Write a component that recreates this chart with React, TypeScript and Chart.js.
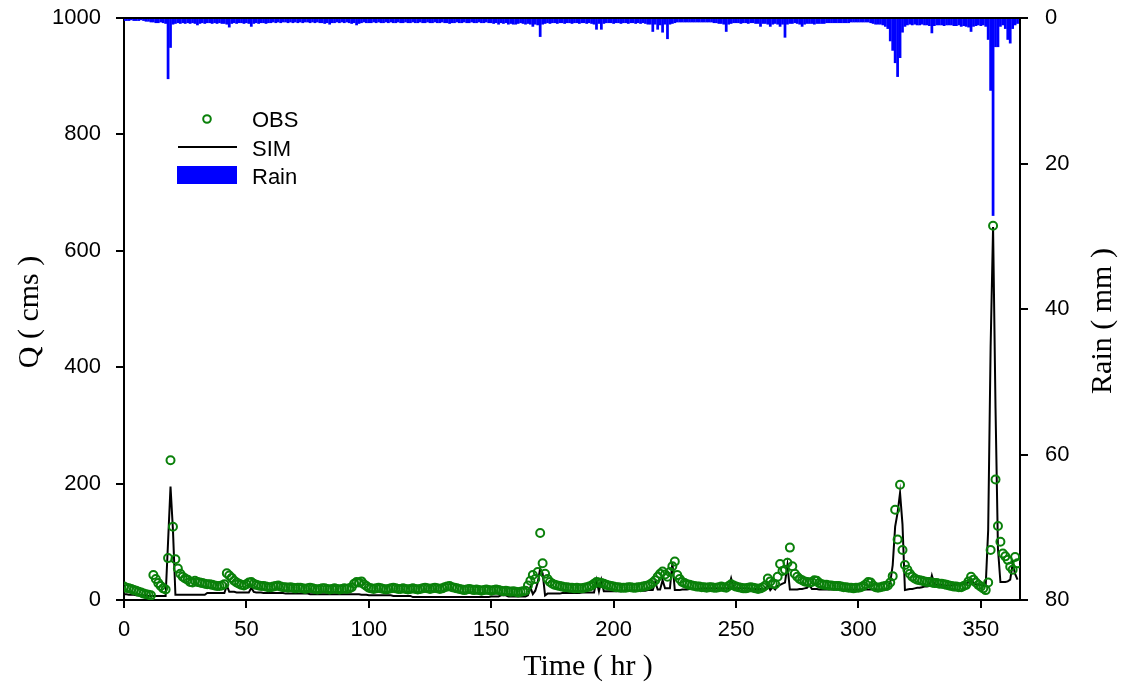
import React, { useEffect, useRef } from "react";
import { Chart, registerables } from "chart.js";

Chart.register(...registerables);

// Observed discharge (cms), hourly from hour 0
const OBS: number[] = [
  23, 21, 20, 19, 17, 16, 14, 13, 11, 10,
  9, 8, 43, 36, 29, 24, 20, 18, 72, 240,
  126, 70, 54, 45, 40, 37, 35, 31, 30, 33,
  31, 30, 29, 28, 27, 27, 26, 25, 24, 24,
  25, 27, 46, 42, 38, 33, 30, 28, 26, 25,
  27, 30, 31, 28, 26, 25, 24, 24, 23, 22,
  22, 23, 24, 25, 23, 22, 22, 21, 22, 21,
  20, 21, 21, 20, 19, 20, 21, 20, 19, 18,
  19, 20, 20, 19, 18, 19, 20, 19, 18, 19,
  20, 19, 20, 22, 28, 31, 30, 32, 27, 24,
  21, 20, 19, 20, 21, 20, 19, 18, 19, 20,
  21, 20, 19, 19, 20, 19, 18, 19, 20, 19,
  18, 19, 20, 21, 20, 19, 20, 21, 20, 19,
  20, 22, 23, 24, 22, 21, 20, 19, 18, 17,
  18, 19, 18, 17, 18, 17, 16, 17, 18, 17,
  16, 17, 18, 17, 16, 15, 16, 15, 14, 15,
  14, 13, 14, 15, 16, 25, 33, 43, 36, 48,
  115, 63, 45, 36, 31, 28, 26, 25, 24, 23,
  22, 22, 21, 21, 20, 21, 20, 20, 21, 22,
  23, 25, 28, 31, 30, 29, 28, 26, 25, 24,
  23, 22, 22, 21, 21, 21, 22, 22, 21, 21,
  22, 22, 23, 24, 25, 27, 30, 34, 40, 45,
  49, 44, 40, 48, 58, 66, 43, 36, 31, 29,
  27, 26, 25, 24, 23, 23, 22, 22, 21, 22,
  22, 21, 21, 22, 23, 22, 21, 24, 27, 25,
  23, 22, 21, 20, 20, 21, 22, 21, 20, 19,
  20, 22, 25, 37, 32, 28, 27, 40, 62, 50,
  52, 64, 90, 58, 45, 40, 36, 34, 32, 31,
  30, 31, 34, 33, 29, 27, 26, 26, 25, 25,
  24, 24, 24, 23, 22, 22, 21, 21, 20, 21,
  21, 22, 24, 27, 31, 30, 25, 22, 21, 22,
  23, 24, 25, 30, 41, 155, 104, 198, 86, 60,
  52, 45, 40, 37, 35, 34, 33, 32, 31, 31,
  30, 29, 29, 28, 28, 27, 26, 25, 24, 23,
  23, 22, 22, 24, 26, 32, 40, 35, 30, 26,
  23, 20, 17, 30, 86, 643, 207, 127, 100, 80,
  75, 69, 57, 52, 74, 63,
];

// Simulated discharge (cms)
const SIM: number[] = [
  10, 10, 9, 9, 9, 8, 8, 8, 8, 8,
  7, 7, 7, 7, 7, 7, 7, 7, 100, 195,
  120, 9, 9, 9, 9, 9, 9, 9, 9, 9,
  9, 9, 9, 9, 12, 12, 12, 12, 12, 12,
  12, 12, 25, 14, 14, 14, 13, 13, 13, 13,
  13, 13, 21, 14, 13, 13, 13, 12, 12, 12,
  12, 12, 12, 12, 12, 12, 11, 11, 11, 11,
  11, 11, 11, 11, 11, 11, 10, 10, 10, 10,
  10, 10, 10, 10, 10, 10, 10, 10, 10, 10,
  10, 10, 10, 10, 10, 10, 10, 9, 9, 9,
  8, 8, 8, 8, 8, 8, 8, 8, 8, 8,
  7, 7, 7, 7, 7, 7, 7, 7, 5, 5,
  5, 5, 5, 5, 5, 5, 5, 5, 5, 5,
  5, 5, 5, 5, 5, 5, 5, 5, 5, 5,
  5, 5, 5, 5, 5, 5, 5, 5, 5, 5,
  6, 6, 6, 6, 8, 8, 8, 6, 6, 6,
  6, 6, 6, 6, 6, 8, 22, 10, 16, 30,
  54, 46, 8, 11, 11, 11, 11, 11, 11, 12,
  12, 12, 12, 12, 12, 12, 12, 13, 13, 13,
  13, 13, 13, 34, 15, 34, 15, 15, 15, 15,
  15, 15, 15, 15, 16, 16, 16, 16, 16, 16,
  16, 16, 16, 16, 17, 17, 17, 31, 18, 18,
  34, 20, 20, 20, 64, 17, 17, 17, 18, 18,
  18, 19, 19, 19, 19, 19, 20, 20, 20, 20,
  20, 20, 20, 20, 20, 20, 20, 20, 37, 20,
  20, 20, 20, 20, 20, 20, 19, 19, 19, 19,
  19, 19, 19, 27, 17, 22, 18, 24, 26, 28,
  30, 60, 18, 18, 18, 18, 19, 19, 20, 21,
  26, 19, 19, 19, 18, 18, 18, 18, 18, 18,
  18, 18, 18, 18, 18, 18, 18, 18, 18, 18,
  18, 18, 18, 18, 18, 18, 18, 18, 18, 18,
  18, 18, 18, 30, 60, 126, 150, 184, 130, 17,
  18, 19, 19, 20, 21, 21, 22, 23, 23, 24,
  42, 27, 26, 26, 26, 25, 25, 25, 25, 26,
  26, 27, 27, 27, 28, 30, 34, 30, 27, 26,
  26, 25, 26, 120, 435, 641, 330, 88, 31, 31,
  31, 32, 35, 62, 45, 35,
];

// Rainfall (mm), hourly
const RAIN: number[] = [
  0.4, 0.4, 0.4, 0.3, 0.4, 0.4, 0.4, 0.3, 0.4, 0.5,
  0.5, 0.6, 0.6, 0.7, 0.7, 0.6, 0.7, 0.8, 8.4, 4.1,
  0.9, 0.8, 0.7, 0.8, 0.7, 0.8, 0.7, 0.8, 0.7, 0.8,
  1.0, 0.8, 0.7, 0.8, 0.7, 0.7, 0.8, 0.7, 0.8, 0.7,
  0.8, 0.8, 0.9, 1.3, 0.8, 0.7, 0.8, 0.7, 0.7, 0.8,
  0.7, 0.8, 1.2, 0.8, 0.7, 0.8, 0.7, 0.7, 0.8, 0.7,
  0.7, 0.6, 0.7, 0.6, 0.7, 0.6, 0.6, 0.7, 0.6, 0.7,
  0.6, 0.7, 0.6, 0.7, 0.6, 0.6, 0.7, 0.6, 0.7, 0.6,
  0.7, 0.7, 0.8, 0.7, 0.9, 0.7, 0.7, 0.6, 0.7, 0.6,
  0.7, 0.6, 0.7, 0.8, 0.7, 1.0, 0.8, 0.7, 0.6, 0.7,
  0.7, 0.7, 0.6, 0.7, 0.6, 0.7, 0.7, 0.6, 0.7, 0.6,
  0.7, 0.7, 0.6, 0.7, 0.7, 0.6, 0.7, 0.7, 0.6, 0.7,
  0.7, 0.6, 0.7, 0.7, 0.6, 0.7, 0.7, 0.6, 0.7, 0.7,
  0.6, 0.7, 0.7, 0.8, 0.7, 0.7, 0.6, 0.7, 0.7, 0.6,
  0.7, 0.7, 0.6, 0.7, 0.7, 0.6, 0.7, 0.7, 0.6, 0.7,
  0.7, 0.8, 0.7, 0.9, 0.7, 0.8, 0.7, 0.9, 0.8, 0.9,
  0.9, 0.8, 0.7, 0.8, 0.9, 0.8, 0.9, 1.2, 0.9, 1.0,
  2.6, 0.9, 0.8, 0.7, 0.8, 0.7, 0.7, 0.8, 0.7, 0.7,
  0.8, 0.7, 0.7, 0.8, 0.7, 0.7, 0.8, 0.7, 0.7, 0.8,
  0.7, 0.8, 0.9, 1.6, 0.8, 1.6, 0.8, 0.7, 0.7, 0.7,
  0.8, 0.7, 0.7, 0.8, 0.7, 0.7, 0.8, 0.7, 0.7, 0.8,
  0.7, 0.8, 0.7, 0.8, 0.9, 0.9, 1.9, 0.9, 1.6, 1.0,
  2.0, 0.9, 2.9, 0.9, 0.8, 0.7, 0.6, 0.6, 0.6, 0.6,
  0.6, 0.6, 0.6, 0.6, 0.6, 0.6, 0.6, 0.6, 0.6, 0.6,
  0.6, 0.7, 0.7, 0.8, 0.8, 0.9, 1.9, 0.9, 0.8, 0.7,
  0.7, 0.7, 0.8, 0.7, 0.7, 0.8, 0.7, 0.7, 0.8, 0.8,
  1.2, 0.8, 0.8, 0.9, 1.2, 0.9, 0.8, 0.9, 1.2, 0.9,
  2.7, 0.9, 0.8, 0.8, 0.7, 0.8, 0.9, 1.2, 0.9, 0.8,
  0.8, 0.8, 0.9, 0.8, 0.8, 0.8, 0.8, 0.7, 0.7, 0.7,
  0.7, 0.7, 0.7, 0.7, 0.7, 0.7, 0.7, 0.6, 0.6, 0.6,
  0.6, 0.6, 0.6, 0.6, 0.6, 0.7, 0.8, 0.9, 0.9, 0.9,
  1.0, 1.2, 1.5, 3.2, 4.5, 6.2, 8.1, 5.5, 2.0, 1.2,
  1.0, 0.9, 1.0, 0.9, 1.0, 1.0, 0.9, 1.0, 1.0, 1.1,
  2.1, 1.1, 1.0, 1.0, 1.0, 1.1, 1.0, 1.0, 1.0, 1.1,
  1.1, 1.0, 1.2, 1.1, 1.2, 1.3, 1.9, 1.2, 1.1, 1.0,
  1.1, 1.0, 1.2, 3.0, 10.0, 27.2, 4.0, 4.0, 1.2, 1.0,
  1.5, 3.0, 3.5, 1.5, 1.0, 0.8,
];

// Hour categories (hour index of each record)
const HOURS: number[] = OBS.map((_, i) => i);

const X_TICKS = [0, 50, 100, 150, 200, 250, 300, 350];
const Q_TICKS = [0, 200, 400, 600, 800, 1000];
const RAIN_TICKS = [0, 20, 40, 60, 80];

const X_MAX = 366;
const Q_MAX = 1000;
const RAIN_MAX = 80;

const X_TITLE = "Time ( hr )";
const Q_TITLE = "Q ( cms )";
const RAIN_TITLE = "Rain ( mm )";
const LEGEND_LABELS = ["OBS", "SIM", "Rain"];

const OBS_COLOR = "#0a800a";
const SIM_COLOR = "#000000";
const RAIN_COLOR = "#0000ff";

const TICK_FONT = { family: "'Liberation Sans', Arial, sans-serif", size: 22 };

const decorPlugin = {
  id: "decor",
  afterDraw(chart: any) {
    const ctx = chart.ctx as CanvasRenderingContext2D;
    const a = chart.chartArea;
    ctx.save();
    // top frame line
    ctx.strokeStyle = "#000";
    ctx.lineWidth = 2;
    ctx.beginPath();
    ctx.moveTo(a.left - 1, a.top);
    ctx.lineTo(a.right + 1, a.top);
    ctx.stroke();

    // axis titles
    ctx.fillStyle = "#000";
    ctx.font = "30px 'Liberation Serif', 'Times New Roman', serif";
    ctx.textAlign = "center";
    ctx.textBaseline = "middle";
    ctx.fillText(X_TITLE, 588, 667);
    ctx.save();
    ctx.translate(30, 312);
    ctx.rotate(-Math.PI / 2);
    ctx.fillText(Q_TITLE, 0, 0);
    ctx.restore();
    ctx.save();
    ctx.translate(1103, 321);
    ctx.rotate(-Math.PI / 2);
    ctx.fillText(RAIN_TITLE, 0, 0);
    ctx.restore();

    // legend
    ctx.font = "22px 'Liberation Sans', Arial, sans-serif";
    ctx.textAlign = "left";
    ctx.textBaseline = "alphabetic";
    ctx.strokeStyle = OBS_COLOR;
    ctx.lineWidth = 2;
    ctx.beginPath();
    ctx.arc(207, 119, 3.8, 0, Math.PI * 2);
    ctx.stroke();
    ctx.fillText(LEGEND_LABELS[0], 252, 127);

    ctx.strokeStyle = SIM_COLOR;
    ctx.lineWidth = 2;
    ctx.beginPath();
    ctx.moveTo(178, 147);
    ctx.lineTo(237, 147);
    ctx.stroke();
    ctx.fillText(LEGEND_LABELS[1], 252, 156);

    ctx.fillStyle = RAIN_COLOR;
    ctx.fillRect(177, 166, 60, 18);
    ctx.fillStyle = "#000";
    ctx.fillText(LEGEND_LABELS[2], 252, 184);
    ctx.restore();
  },
};

const axisCommon = {
  grid: {
    drawOnChartArea: false,
    drawTicks: true,
    tickLength: 8,
    color: "#000",
    lineWidth: 2,
    offset: false,
  },
  border: { display: true, color: "#000", width: 2 },
};

const plainLabel = (v: any) => String(v);

export default function App() {
  const ref = useRef<HTMLCanvasElement>(null);

  useEffect(() => {
    if (!ref.current) return;
    const chart = new Chart(ref.current, {
      type: "line",
      data: {
        datasets: [
          {
            type: "line",
            label: "OBS",
            data: HOURS.map((h, i) => ({ x: h, y: OBS[i] })),
            showLine: false,
            pointStyle: "circle",
            pointRadius: 4,
            pointBorderWidth: 2,
            pointBorderColor: OBS_COLOR,
            pointBackgroundColor: "rgba(0,0,0,0)",
            borderColor: OBS_COLOR,
            yAxisID: "y",
            order: 1,
          },
          {
            type: "line",
            label: "SIM",
            data: HOURS.map((h, i) => ({ x: h, y: SIM[i] })),
            borderColor: SIM_COLOR,
            borderWidth: 2,
            pointRadius: 0,
            tension: 0,
            fill: false,
            yAxisID: "y",
            order: 2,
          },
          {
            type: "bar",
            label: "Rain",
            data: HOURS.map((h, i) => ({ x: h, y: RAIN[i] })),
            backgroundColor: RAIN_COLOR,
            borderWidth: 0,
            barPercentage: 1.12,
            categoryPercentage: 1,
            yAxisID: "y2",
            order: 3,
          } as any,
        ],
      },
      options: {
        responsive: false,
        animation: false,
        devicePixelRatio: 1,
        layout: { padding: { top: 18, left: 0, right: 0, bottom: 0 } },
        plugins: {
          legend: { display: false },
          tooltip: { enabled: false },
        },
        scales: {
          x: {
            type: "linear",
            position: "bottom",
            offset: false,
            min: 0,
            max: X_MAX,
            afterFit: (s: any) => {
              s.height = 91;
              s.paddingLeft = 0;
              s.paddingRight = 0;
            },
            afterBuildTicks: (s: any) => {
              s.ticks = X_TICKS.map((v) => ({ value: v }));
            },
            ticks: {
              font: TICK_FONT,
              color: "#000",
              padding: 9,
              maxRotation: 0,
              autoSkip: false,
              callback: plainLabel,
            },
            ...axisCommon,
          },
          y: {
            type: "linear",
            position: "left",
            min: 0,
            max: Q_MAX,
            afterFit: (s: any) => {
              s.width = 124;
              s.paddingTop = 0;
              s.paddingBottom = 0;
            },
            afterBuildTicks: (s: any) => {
              s.ticks = Q_TICKS.map((v) => ({ value: v }));
            },
            ticks: { font: TICK_FONT, color: "#000", padding: 15, callback: plainLabel },
            ...axisCommon,
          },
          y2: {
            type: "linear",
            position: "right",
            min: 0,
            max: RAIN_MAX,
            reverse: true,
            afterFit: (s: any) => {
              s.width = 106;
              s.paddingTop = 0;
              s.paddingBottom = 0;
            },
            afterBuildTicks: (s: any) => {
              s.ticks = RAIN_TICKS.map((v) => ({ value: v }));
            },
            ticks: { font: TICK_FONT, color: "#000", padding: 17, callback: plainLabel },
            ...axisCommon,
          },
        } as any,
      },
      plugins: [decorPlugin],
    });
    return () => chart.destroy();
  }, []);

  return (
    <div
      style={{
        position: "absolute",
        left: 0,
        top: 0,
        width: 1126,
        height: 691,
        background: "#fff",
      }}
    >
      <canvas ref={ref} width={1126} height={691} style={{ display: "block" }} />
    </div>
  );
}
